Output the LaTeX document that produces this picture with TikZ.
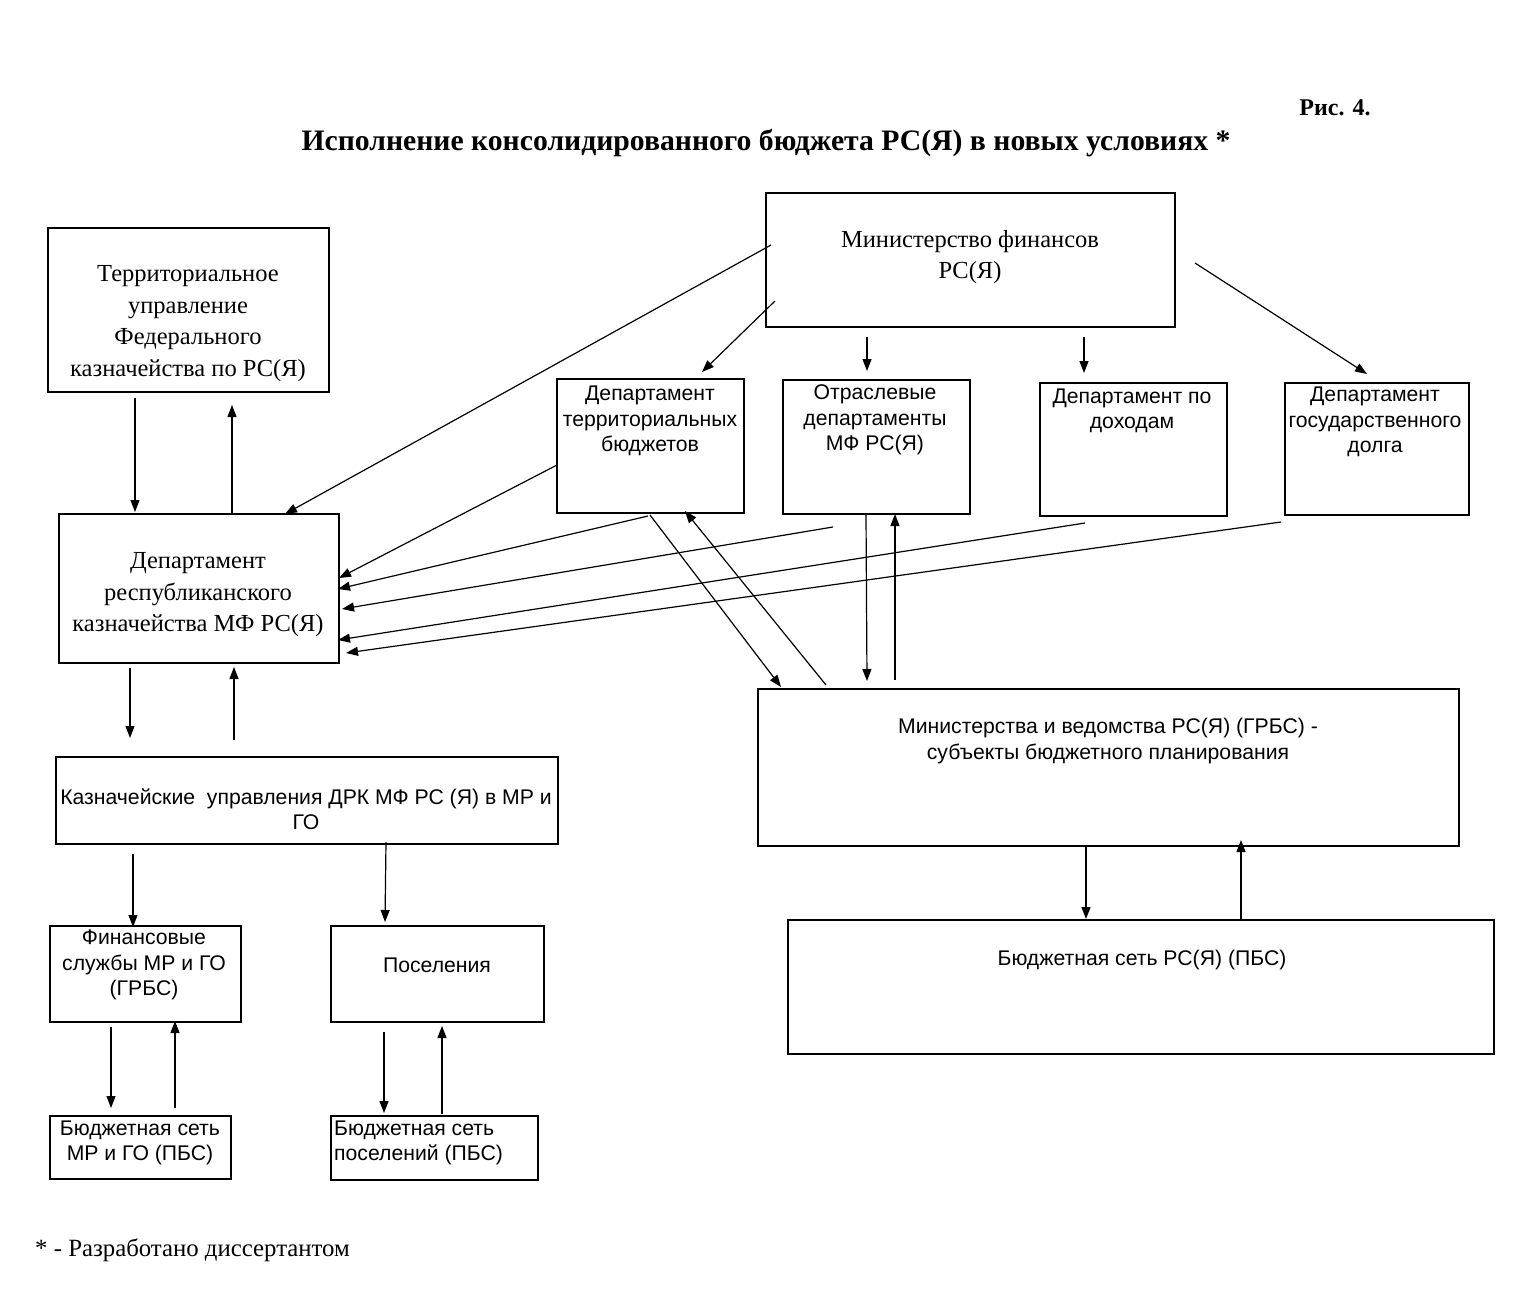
\documentclass[tikz,border=0pt]{standalone}
\usepackage{fontspec}
\setmainfont{Liberation Serif}
\newfontfamily\arial{Liberation Sans}
\usetikzlibrary{arrows.meta}
\begin{document}
\begin{tikzpicture}[x=1pt,y=-1pt,
  box/.style={draw, line width=1.5pt, anchor=north west, inner sep=0pt, rectangle},
  ser/.style={font=\fontsize{24.5}{31.5}\selectfont, align=center, inner sep=0pt},
  san/.style={font=\arial\fontsize{21.2}{25.5}\selectfont, align=center, inner sep=0pt},
  arr/.style={line width=1.2pt, -{Triangle[length=12pt,width=9pt]}}]
\useasboundingbox[fill=white] (0,0) rectangle (1535,1309);

% titles
\node[font=\bfseries\fontsize{24}{28}\selectfont, inner sep=0pt] (fig) at (1335,108) {Рис. 4.};
\node[font=\bfseries\fontsize{29.7}{34}\selectfont, inner sep=0pt] (title) at (766,143) {Исполнение консолидированного бюджета РС(Я) в новых условиях *};
\node[font=\fontsize{24.8}{28}\selectfont, inner sep=0pt, anchor=west] (foot) at (35,1250) {* - Разработано диссертантом};

% boxes
\node[box, minimum width=281pt, minimum height=164pt] (tu) at (47,227) {};
\node[box, minimum width=409pt, minimum height=134pt] (mf) at (765,192) {};
\node[box, minimum width=187pt, minimum height=134pt] (dtb) at (556,378) {};
\node[box, minimum width=187pt, minimum height=134pt] (od) at (782,379) {};
\node[box, minimum width=187pt, minimum height=133pt] (dd) at (1039,382) {};
\node[box, minimum width=184pt, minimum height=132pt] (gd) at (1284,382) {};
\node[box, minimum width=280pt, minimum height=149pt] (drk) at (58,513) {};
\node[box, minimum width=502pt, minimum height=87pt] (ku) at (55,756) {};
\node[box, minimum width=701pt, minimum height=157pt] (mv) at (757,688) {};
\node[box, minimum width=706pt, minimum height=134pt] (bs) at (787,919) {};
\node[box, minimum width=191pt, minimum height=96pt] (fs) at (49,925) {};
\node[box, minimum width=213pt, minimum height=96pt] (pos) at (330,925) {};
\node[box, minimum width=181pt, minimum height=63pt] (bsmr) at (49,1115) {};
\node[box, minimum width=207pt, minimum height=64pt] (bsp) at (330,1115) {};

% texts
\node[ser] (tut) at (188,323.5) {Территориальное\\управление\\Федерального\\казначейства по РС(Я)};
\node[ser] (mft) at (970,257) {Министерство финансов\\РС(Я)};
\node[ser] (drkt) at (198,595) {Департамент\\республиканского\\казначейства МФ РС(Я)};
\node[san] (dtbt) at (650,421) {Департамент\\территориальных\\бюджетов};
\node[san] (odt) at (875,420) {Отраслевые\\департаменты\\МФ РС(Я)};
\node[san] (ddt) at (1132,411) {Департамент по\\доходам};
\node[san] (gdt) at (1375,422) {Департамент\\государственного\\долга};
\node[san] (kut) at (306,809) {Казначейские\ \ управления ДРК МФ РС (Я) в МР и\\ГО};
\node[san] (mvt) at (1108,741) {Министерства и ведомства РС(Я) (ГРБС) -\\субъекты бюджетного планирования};
\node[san] (bst) at (1142,960) {Бюджетная сеть РС(Я) (ПБС)};
\node[san] (fst) at (144,965) {Финансовые\\службы МР и ГО\\(ГРБС)};
\node[san] (post) at (437,965) {Поселения};
\node[san] (bsmrt) at (140,1143) {Бюджетная сеть\\МР и ГО (ПБС)};
\node[san, align=left, anchor=west] (bspt) at (334,1143) {Бюджетная сеть\\поселений (ПБС)};

% connector end points
\coordinate (a1s) at (135,398);  \coordinate (a1e) at (135,512);
\coordinate (a2s) at (232,513);  \coordinate (a2e) at (232,405);
\coordinate (a3s) at (771,245);  \coordinate (a3e) at (285,514);
\coordinate (a4s) at (775,301);  \coordinate (a4e) at (702,372);
\coordinate (a5s) at (867,337);  \coordinate (a5e) at (867,371);
\coordinate (a6s) at (1084,337); \coordinate (a6e) at (1084,373);
\coordinate (a7s) at (1195,263); \coordinate (a7e) at (1367,374);
\coordinate (a8s) at (557,465);  \coordinate (a8e) at (339,578);
\coordinate (a9s) at (648,516);  \coordinate (a9e) at (338,589);
\coordinate (a10s) at (833,527); \coordinate (a10e) at (342,609);
\coordinate (a11s) at (1085,523);\coordinate (a11e) at (338,640);
\coordinate (a12s) at (1281,522);\coordinate (a12e) at (346,653);
\coordinate (a13s) at (650,515); \coordinate (a13e) at (781,687);
\coordinate (a14s) at (826,685); \coordinate (a14e) at (685,511);
\coordinate (a15s) at (866,515); \coordinate (a15e) at (867,681);
\coordinate (a16s) at (895,680); \coordinate (a16e) at (895,514);
\coordinate (a17s) at (130,668); \coordinate (a17e) at (130,738);
\coordinate (a18s) at (234,740); \coordinate (a18e) at (234,667);
\coordinate (a19s) at (133,854); \coordinate (a19e) at (133,927);
\coordinate (a20s) at (386,842); \coordinate (a20e) at (385,922);
\coordinate (a21s) at (111,1027);\coordinate (a21e) at (111,1108);
\coordinate (a22s) at (175,1108);\coordinate (a22e) at (175,1021);
\coordinate (a23s) at (384,1032);\coordinate (a23e) at (384,1113);
\coordinate (a24s) at (442,1114);\coordinate (a24e) at (442,1026);
\coordinate (a25s) at (1086,846);\coordinate (a25e) at (1086,919);
\coordinate (a26s) at (1241,919);\coordinate (a26e) at (1241,840);

\foreach \i in {1,...,26}{\draw[arr] (a\i s) -- (a\i e);}
\end{tikzpicture}
\end{document}
